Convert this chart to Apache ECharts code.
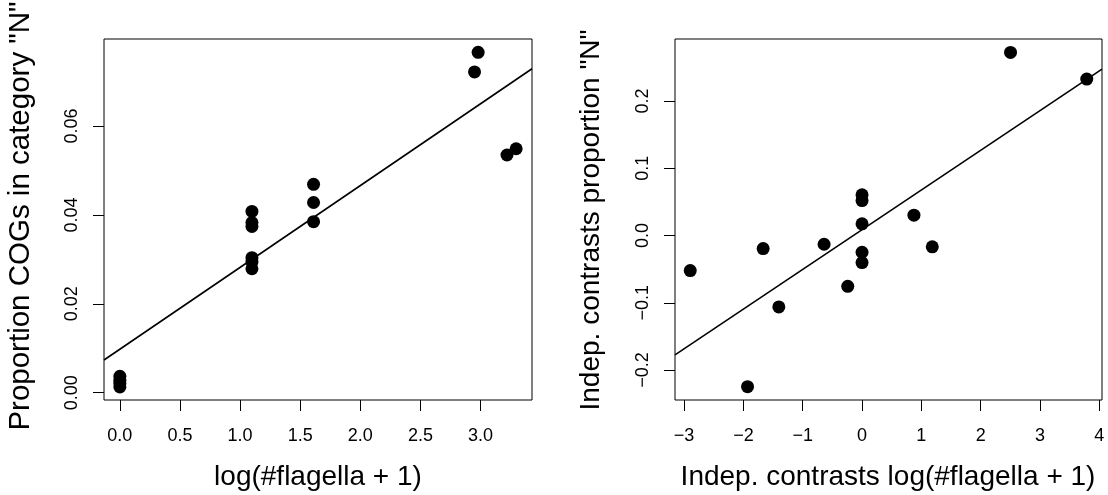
<!DOCTYPE html>
<html>
<head>
<meta charset="utf-8">
<title>flagella COGs</title>
<script src="https://cdn.jsdelivr.net/npm/echarts@6/dist/echarts.min.js"></script>
<style>
  html, body { margin: 0; padding: 0; background: #fff; }
  #chart { width: 1108px; height: 495px; }
</style>
</head>
<body>
<div id="chart"></div>
<script>
// ---- data ----
// left panel: raw values
var leftX = [0, 0, 0, 0, 1.0986, 1.0986, 1.0986, 1.0986, 1.0986, 1.0986, 1.611, 1.611, 1.611, 2.95, 2.98, 3.22, 3.296];
var leftY = [0.0037, 0.0028, 0.0021, 0.0013, 0.0408, 0.0383, 0.0374, 0.0304, 0.0294, 0.0279, 0.0469, 0.0428, 0.0385, 0.0722, 0.0766, 0.0535, 0.0549];
// fitted line (ends at plot edges)
var leftFitX = [-0.132, 3.428];
var leftFitY = [0.00736, 0.0729];

// right panel: independent contrasts
var rightX = [-2.896, -1.930, -1.667, -1.403, -0.640, -0.241, 0, 0, 0, 0, 0, 0.875, 1.184, 2.503, 3.788];
var rightY = [-0.0521, -0.2247, -0.0193, -0.1061, -0.0129, -0.0754, 0.0606, 0.0521, 0.0174, -0.0248, -0.0402, 0.0303, -0.0168, 0.2723, 0.2327];
var rightFitX = [-3.153, 4.045];
var rightFitY = [-0.1775, 0.2476];

// tick positions
var leftXTicks = [0, 0.5, 1, 1.5, 2, 2.5, 3];
var leftYTicks = [0, 0.02, 0.04, 0.06];
var rightXTicks = [-3, -2, -1, 0, 1, 2, 3, 4];
var rightYTicks = [-0.2, -0.1, 0, 0.1, 0.2];

var FONT = "'Liberation Sans', Arial, Helvetica, sans-serif";

function pairs(xs, ys) {
  var out = [];
  for (var i = 0; i < xs.length; i++) out.push([xs[i], ys[i]]);
  return out;
}
function minus(s) { return String(s).replace('-', '\u2212'); }

// R-style axis: ticks outward on the box edge, no split lines, box drawn by the grid
function rAxis(gridIndex, min, max, ticks, fmt, isY) {
  return {
    type: 'value',
    gridIndex: gridIndex,
    min: min,
    max: max,
    axisLine: { show: false, onZero: false },
    splitLine: { show: false },
    axisTick: {
      show: true, inside: false, length: 11,
      customValues: ticks,
      lineStyle: { color: '#000', width: 1 }
    },
    axisLabel: {
      show: true,
      customValues: ticks,
      formatter: fmt,
      color: '#000',
      fontFamily: FONT,
      fontSize: 18,
      rotate: isY ? 90 : 0,
      align: 'center',
      verticalAlign: 'middle',
      margin: isY ? 32 : 36
    }
  };
}

var myChart = echarts.init(document.getElementById('chart'), null, { renderer: 'canvas' });

var dot = { color: '#000', opacity: 1 };

var option = {
  animation: false,
  backgroundColor: '#fff',
  grid: [
    { left: 104, top: 39, width: 428, height: 361, show: true, borderColor: '#000', borderWidth: 1, backgroundColor: 'transparent' },
    { left: 675, top: 39, width: 427, height: 361, show: true, borderColor: '#000', borderWidth: 1, backgroundColor: 'transparent' }
  ],
  xAxis: [
    rAxis(0, -0.132, 3.428, leftXTicks, function (v) { return v.toFixed(1); }, false),
    rAxis(1, -3.153, 4.045, rightXTicks, function (v) { return minus(Math.round(v)); }, false)
  ],
  yAxis: [
    rAxis(0, -0.00164, 0.0796, leftYTicks, function (v) { return v.toFixed(2); }, true),
    rAxis(1, -0.2445, 0.2923, rightYTicks, function (v) { return minus(v.toFixed(1)); }, true)
  ],
  series: [
    {
      type: 'scatter', xAxisIndex: 0, yAxisIndex: 0,
      symbol: 'circle', symbolSize: 13,
      itemStyle: dot,
      data: pairs(leftX, leftY)
    },
    {
      type: 'line', xAxisIndex: 0, yAxisIndex: 0,
      showSymbol: false, clip: true,
      lineStyle: { color: '#000', width: 1.6 },
      data: pairs(leftFitX, leftFitY)
    },
    {
      type: 'scatter', xAxisIndex: 1, yAxisIndex: 1,
      symbol: 'circle', symbolSize: 13,
      itemStyle: dot,
      data: pairs(rightX, rightY)
    },
    {
      type: 'line', xAxisIndex: 1, yAxisIndex: 1,
      showSymbol: false, clip: true,
      lineStyle: { color: '#000', width: 1.6 },
      data: pairs(rightFitX, rightFitY)
    }
  ],
  // axis titles (R mtext style)
  graphic: [
    { type: 'text', x: 318, y: 477, style: { text: 'log(#flagella + 1)', font: '28px ' + FONT, fill: '#000', align: 'center', verticalAlign: 'middle' } },
    { type: 'text', x: 888, y: 477, style: { text: 'Indep. contrasts log(#flagella + 1)', font: '28px ' + FONT, fill: '#000', align: 'center', verticalAlign: 'middle' } },
    { type: 'text', x: 21, y: 216, rotation: Math.PI / 2, style: { text: 'Proportion COGs in category "N"', font: '29.5px ' + FONT, fill: '#000', align: 'center', verticalAlign: 'middle' } },
    { type: 'text', x: 591, y: 220, rotation: Math.PI / 2, style: { text: 'Indep. contrasts proportion "N"', font: '28px ' + FONT, fill: '#000', align: 'center', verticalAlign: 'middle' } }
  ]
};

myChart.setOption(option);
</script>
</body>
</html>
